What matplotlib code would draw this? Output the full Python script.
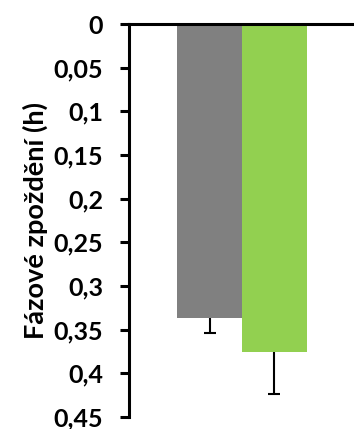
import matplotlib.pyplot as plt
from matplotlib.ticker import FuncFormatter

# data
groups = ['A', 'B']
delays = [0.337, 0.375]
errors = [0.017, 0.049]
colors = ['#808080', '#92d050']
yticks = [0, 0.05, 0.1, 0.15, 0.2, 0.25, 0.3, 0.35, 0.4, 0.45]

plt.rcParams['font.family'] = ['Lato', 'DejaVu Sans']
plt.rcParams['font.weight'] = 'bold'

fig = plt.figure(figsize=(3.54, 4.29), dpi=100)
ax = fig.add_axes([129 / 354, 1 - 417 / 429, 226 / 354, 393 / 429])

x = [-0.5, 0.5]
ax.bar(x, delays, width=1.0, color=colors, zorder=2)
eb = ax.errorbar(x, delays, yerr=[[0, 0], errors], fmt='none', ecolor='black',
                 elinewidth=1.5, capsize=4, capthick=1.5, zorder=1)
# only the outer caps, like the original
eb[1][0].set_visible(False)

ax.set_xlim(-1.74, 1.74)
ax.set_ylim(0.45, 0)
ax.set_yticks(yticks)
ax.yaxis.set_major_formatter(FuncFormatter(lambda v, p: ('%g' % v).replace('.', ',')))
ax.set_xticks([])

ax.spines['right'].set_visible(False)
ax.spines['bottom'].set_visible(False)
ax.spines['left'].set_linewidth(2.2)
ax.spines['top'].set_linewidth(2.2)
ax.spines['left'].set_zorder(4)
ax.tick_params(axis='y', direction='out', length=6.5, width=2.2, pad=12,
               labelsize=18)
ax.set_ylabel('Fázové zpoždění (h)', fontsize=19.5, fontweight='bold', labelpad=4)

fig.savefig('out.png', dpi=100)
